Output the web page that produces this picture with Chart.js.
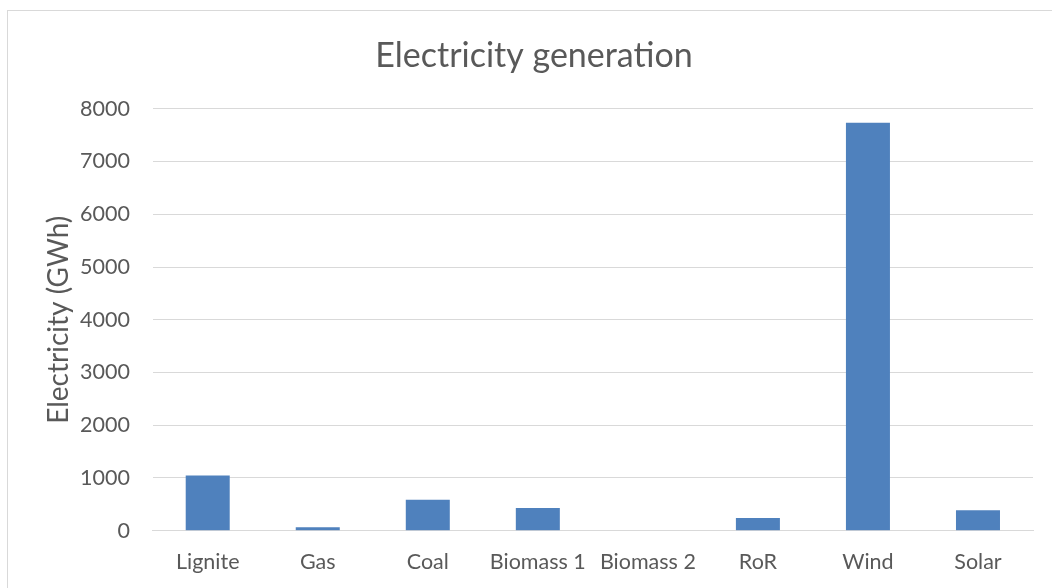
<!DOCTYPE html>
<html>
<head>
<meta charset="utf-8">
<title>Electricity generation</title>
<script src="https://cdn.jsdelivr.net/npm/chart.js@4/dist/chart.umd.min.js"></script>
<style>
  html, body { margin: 0; padding: 0; background: #ffffff; }
  #wrap { width: 1052px; height: 588px; }
</style>
</head>
<body>
<div id="wrap"><canvas id="chart" width="1052" height="588"></canvas></div>
<script>
// Generation by source, GWh
const categories = ['Lignite', 'Gas', 'Coal', 'Biomass 1', 'Biomass 2', 'RoR', 'Wind', 'Solar'];
const generation = [1045, 65, 585, 430, 0, 240, 7735, 390];
const yTicks = [0, 1000, 2000, 3000, 4000, 5000, 6000, 7000, 8000];

const FONT = 'Lato, "Open Sans", sans-serif';
const TEXT = '#595959';
const GRID = '#d9d9d9';

// White page with a thin grey frame around the chart
const framePlugin = {
  id: 'frame',
  beforeDraw(chart) {
    const ctx = chart.ctx;
    ctx.save();
    ctx.fillStyle = '#ffffff';
    ctx.fillRect(0, 0, chart.width, chart.height);
    ctx.strokeStyle = GRID;
    ctx.lineWidth = 1;
    ctx.strokeRect(7.5, 10.5, 1200, 800);
    ctx.restore();
  }
};

new Chart(document.getElementById('chart'), {
  type: 'bar',
  data: {
    labels: categories,
    datasets: [{
      label: 'Electricity (GWh)',
      data: generation,
      backgroundColor: '#4f81bd',
      borderWidth: 0,
      categoryPercentage: 0.8,
      barPercentage: 0.5
    }]
  },
  options: {
    responsive: false,
    animation: false,
    layout: { padding: { top: 0, right: 19, bottom: 0, left: 35 } },
    plugins: {
      legend: { display: false },
      tooltip: { enabled: false },
      title: {
        display: true,
        text: 'Electricity generation',
        color: TEXT,
        font: { family: FONT, size: 34, weight: 'normal' },
        padding: { top: 35.6, bottom: 32.4 }
      }
    },
    scales: {
      x: {
        grid: { display: false, drawTicks: false },
        border: { display: true, color: GRID, width: 1 },
        ticks: { color: TEXT, font: { family: FONT, size: 21.5 }, padding: 18, maxRotation: 0 },
        afterFit(scale) { scale.height = 57.3; }
      },
      y: {
        min: 0,
        max: 8000,
        afterBuildTicks(scale) { scale.ticks = yTicks.map(v => ({ value: v })); },
        grid: { color: GRID, lineWidth: 1, drawTicks: false },
        border: { display: false },
        ticks: {
          color: TEXT,
          font: { family: FONT, size: 21.5 },
          padding: 22.7,
          callback: (value) => String(value)
        },
        title: {
          display: true,
          text: 'Electricity (GWh)',
          color: TEXT,
          font: { family: FONT, size: 28, weight: 'normal' },
          padding: { top: 6.7, bottom: 0 }
        },
        afterFit(scale) { scale.width = 117.7; }
      }
    }
  },
  plugins: [framePlugin]
});
</script>
</body>
</html>
